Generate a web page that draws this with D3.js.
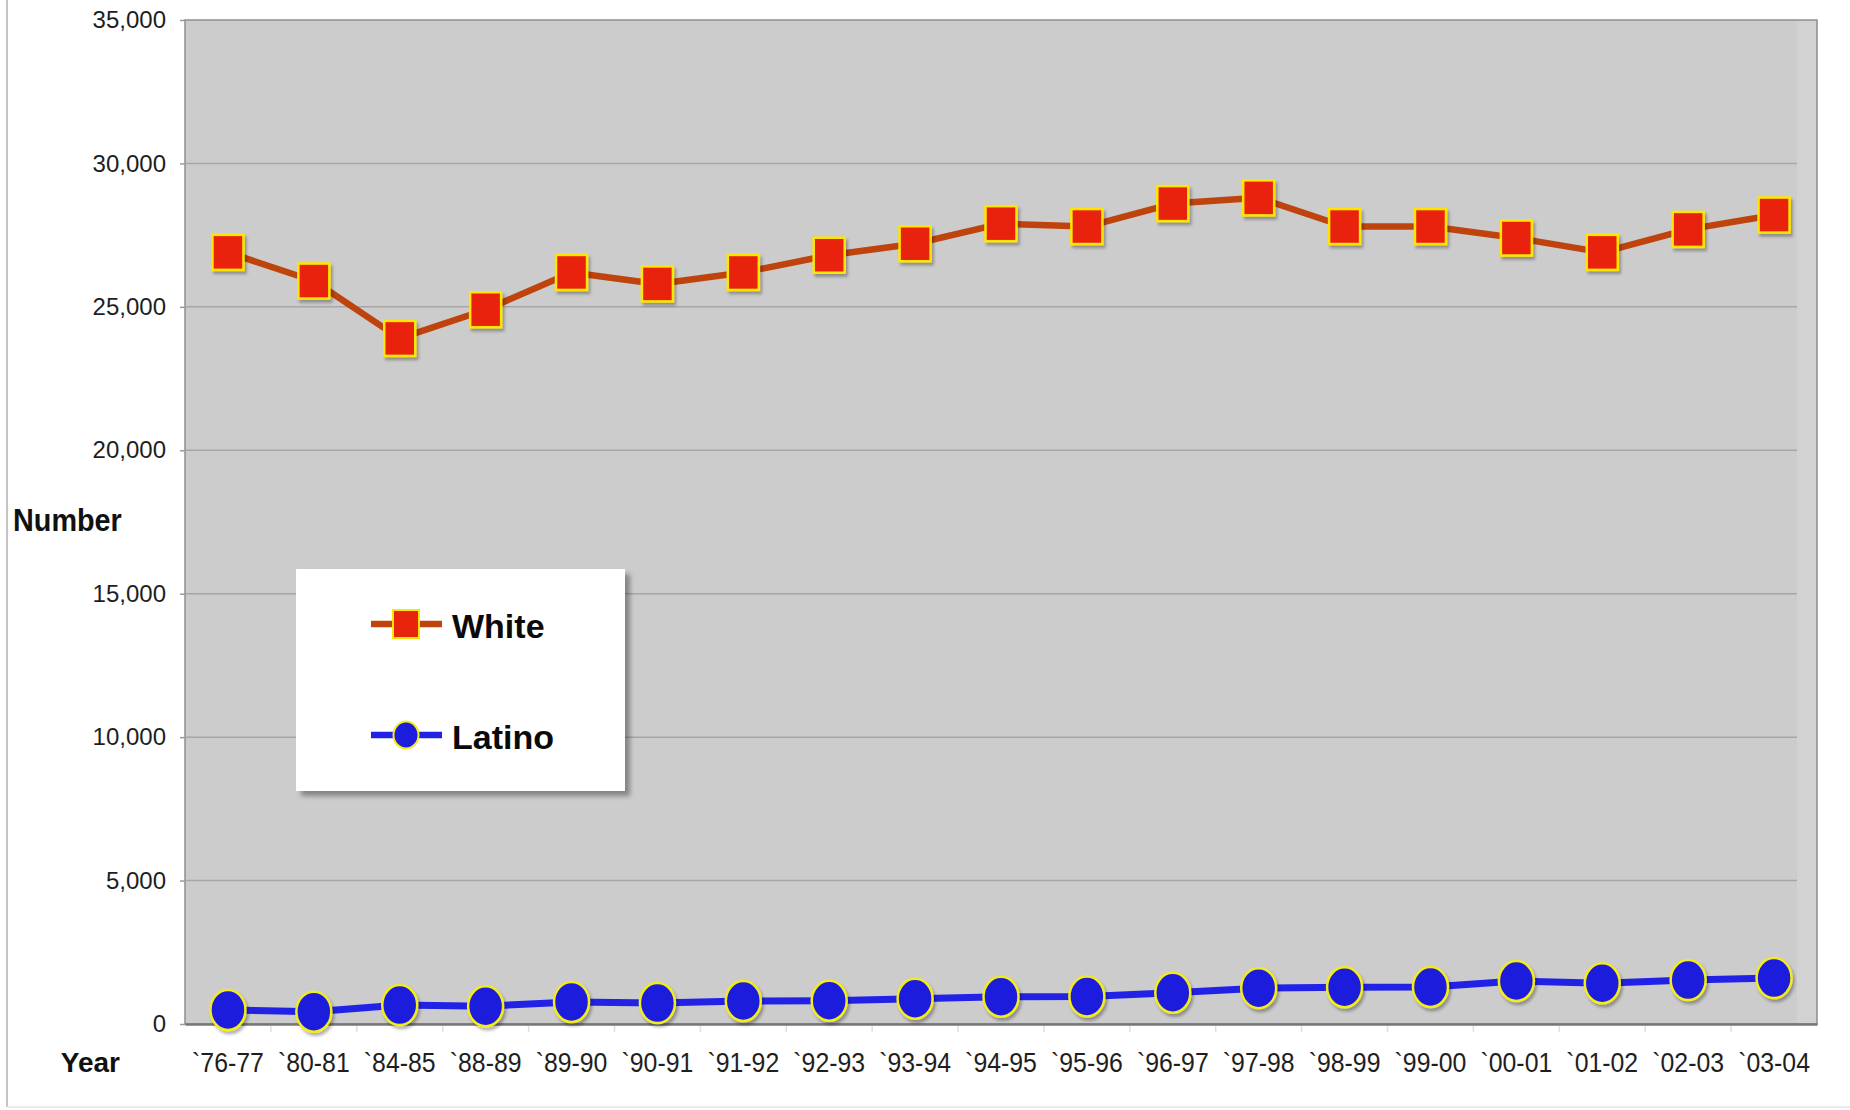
<!DOCTYPE html>
<html>
<head>
<meta charset="utf-8">
<script src="https://cdn.jsdelivr.net/npm/d3@7"></script>
<style>
  html, body { margin: 0; padding: 0; background: #ffffff; }
  svg { display: block; font-family: "Liberation Sans", Arial, sans-serif; }
</style>
</head>
<body>
<svg id="chart" width="1850" height="1110"></svg>
<script>
// School years on the horizontal axis
const years = ["`76-77", "`80-81", "`84-85", "`88-89", "`89-90", "`90-91", "`91-92",
  "`92-93", "`93-94", "`94-95", "`95-96", "`96-97", "`97-98", "`98-99", "`99-00",
  "`00-01", "`01-02", "`02-03", "`03-04"];

// Counts per year
const white = [26900, 25900, 23900, 24900, 26200, 25800, 26200, 26800, 27200, 27900,
  27800, 28600, 28800, 27800, 27800, 27400, 26900, 27700, 28200];
const latino = [490, 430, 660, 620, 770, 730, 800, 810, 880, 950,
  960, 1090, 1250, 1280, 1290, 1500, 1420, 1530, 1600];

// Value axis ticks
const yTicks = [0, 5000, 10000, 15000, 20000, 25000, 30000, 35000];

const svg = d3.select("#chart");

const plot = { left: 185, right: 1817, top: 20, bottom: 1024, gridEnd: 1797 };

const x = d3.scaleBand().domain(years).range([plot.left, plot.right]);
const cx = d => x(d) + x.bandwidth() / 2;
const y = d3.scaleLinear().domain([0, 35000]).range([plot.bottom, plot.top]);

// Shadows for markers and legend
const defs = svg.append("defs");
defs.append("filter").attr("id", "mshadow")
  .attr("x", "-50%").attr("y", "-50%").attr("width", "200%").attr("height", "200%")
  .append("feDropShadow")
  .attr("dx", 2).attr("dy", 3).attr("stdDeviation", 1.8)
  .attr("flood-color", "#000").attr("flood-opacity", 0.3);
defs.append("filter").attr("id", "lshadow")
  .attr("x", "-10%").attr("y", "-10%").attr("width", "130%").attr("height", "130%")
  .append("feDropShadow")
  .attr("dx", 5).attr("dy", 5).attr("stdDeviation", 2.5)
  .attr("flood-color", "#000").attr("flood-opacity", 0.35);

// Page frame lines
svg.append("line").attr("x1", 7).attr("x2", 7).attr("y1", 0).attr("y2", 1107)
  .attr("stroke", "#b0b0b0").attr("stroke-width", 1.5);
svg.append("line").attr("x1", 7).attr("x2", 1850).attr("y1", 1107).attr("y2", 1107)
  .attr("stroke", "#e4e4e4").attr("stroke-width", 1.5);

// Plot background
svg.append("rect")
  .attr("x", plot.left).attr("y", plot.top)
  .attr("width", plot.right - plot.left).attr("height", plot.bottom - plot.top)
  .attr("fill", "#cccccc")
  .attr("stroke", "#8e8e8e").attr("stroke-width", 1.5);

// Side wall shading at the right of the plot
svg.append("rect")
  .attr("x", plot.gridEnd).attr("y", plot.top + 1)
  .attr("width", plot.right - plot.gridEnd - 1).attr("height", plot.bottom - plot.top - 2)
  .attr("fill", "#d2d2d2");

// Horizontal gridlines
svg.append("g").selectAll("line")
  .data(yTicks.filter(v => v > 0 && v < 35000))
  .join("line")
  .attr("x1", plot.left).attr("x2", plot.gridEnd)
  .attr("y1", d => y(d)).attr("y2", d => y(d))
  .attr("stroke", "#a6a6a6").attr("stroke-width", 1.5);

// Y axis
const yAxis = svg.append("g")
  .attr("transform", `translate(${plot.left},0)`)
  .call(d3.axisLeft(y).tickValues(yTicks).tickFormat(d3.format(","))
    .tickSize(5).tickPadding(14));
yAxis.select(".domain").remove();
yAxis.selectAll(".tick line").attr("stroke", "#9a9a9a").attr("stroke-width", 1.5);
yAxis.selectAll(".tick text")
  .attr("fill", "#1e1e1e")
  .style("font-size", "24px")
  .style("font-family", "'Liberation Sans', Arial, sans-serif");

// X axis
const xAxis = svg.append("g")
  .attr("transform", `translate(0,${plot.bottom})`)
  .call(d3.axisBottom(x).tickSize(0).tickPadding(29));
xAxis.select(".domain").attr("stroke", "#777777").attr("stroke-width", 2.5);
xAxis.selectAll(".tick text")
  .attr("fill", "#1e1e1e")
  .attr("transform", "scale(0.92,1)")
  .style("font-size", "27px")
  .style("font-family", "'Liberation Sans', Arial, sans-serif");

// Faint category separators below the axis
svg.append("g").selectAll("line")
  .data(years.slice(1))
  .join("line")
  .attr("x1", d => x(d)).attr("x2", d => x(d))
  .attr("y1", plot.bottom + 2).attr("y2", plot.bottom + 8)
  .attr("stroke", "#e0e0e0").attr("stroke-width", 1.5);

// Axis titles
svg.append("text")
  .attr("x", 13).attr("y", 531)
  .attr("font-size", 32).attr("font-weight", "bold").attr("fill", "#111")
  .attr("transform", "translate(13,531) scale(0.9,1) translate(-13,-531)")
  .text("Number");
svg.append("text")
  .attr("x", 120).attr("y", 1072).attr("text-anchor", "end")
  .attr("font-size", 28).attr("font-weight", "bold").attr("fill", "#111")
  .text("Year");

// Series lines
const line = d3.line().x((d, i) => cx(years[i])).y(d => y(d));
svg.append("path").datum(white)
  .attr("d", line).attr("fill", "none")
  .attr("stroke", "#bf430d").attr("stroke-width", 6.5).attr("stroke-linejoin", "round");
svg.append("path").datum(latino)
  .attr("d", line).attr("fill", "none")
  .attr("stroke", "#2222e6").attr("stroke-width", 7).attr("stroke-linejoin", "round");

// Markers
const sqW = 31, sqH = 35;
svg.append("g").attr("filter", "url(#mshadow)").selectAll("rect")
  .data(white)
  .join("rect")
  .attr("x", (d, i) => cx(years[i]) - sqW / 2)
  .attr("y", d => y(d) - sqH / 2)
  .attr("width", sqW).attr("height", sqH)
  .attr("fill", "#e8240c").attr("stroke", "#ffe600").attr("stroke-width", 2.5);

svg.append("g").attr("filter", "url(#mshadow)").selectAll("ellipse")
  .data(latino)
  .join("ellipse")
  .attr("cx", (d, i) => cx(years[i]))
  .attr("cy", d => y(d))
  .attr("rx", 17.5).attr("ry", 20)
  .attr("fill", "#1c1cdc").attr("stroke", "#f2ec1a").attr("stroke-width", 2.5);

// Legend
const legend = svg.append("g");
legend.append("rect")
  .attr("x", 296).attr("y", 569).attr("width", 329).attr("height", 222)
  .attr("fill", "#ffffff").attr("filter", "url(#lshadow)");

const items = [
  { name: "White", y: 624, stroke: "#bf430d", fill: "#e8240c", shape: "square" },
  { name: "Latino", y: 735, stroke: "#2222e6", fill: "#1c1cdc", shape: "circle" }
];
items.forEach(it => {
  legend.append("line")
    .attr("x1", 371).attr("x2", 442).attr("y1", it.y).attr("y2", it.y)
    .attr("stroke", it.stroke).attr("stroke-width", 6.5);
  if (it.shape === "square") {
    legend.append("rect")
      .attr("x", 406 - 13).attr("y", it.y - 14).attr("width", 26).attr("height", 28)
      .attr("fill", it.fill).attr("stroke", "#ffe600").attr("stroke-width", 2);
  } else {
    legend.append("ellipse")
      .attr("cx", 406).attr("cy", it.y).attr("rx", 12.5).attr("ry", 13.5)
      .attr("fill", it.fill).attr("stroke", "#f2ec1a").attr("stroke-width", 2);
  }
  legend.append("text")
    .attr("x", 452).attr("y", it.y + 14)
    .attr("font-size", 34).attr("font-weight", "bold").attr("fill", "#0a0a0a")
    .text(it.name);
});
</script>
</body>
</html>
